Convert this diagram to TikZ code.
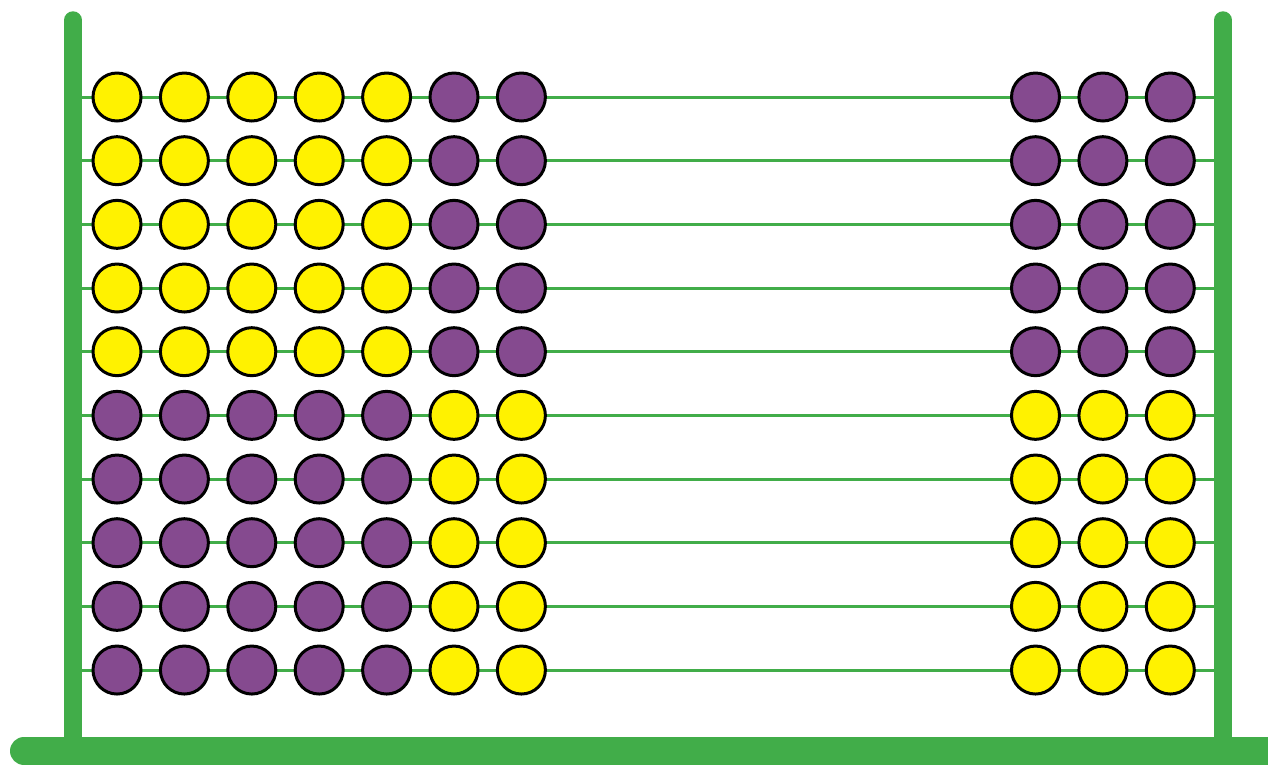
\documentclass[tikz,border=0pt]{standalone}
\usetikzlibrary{calc}
\definecolor{frameGreen}{HTML}{41AD49}
\definecolor{beadYellow}{HTML}{FFF200}
\definecolor{beadPurple}{HTML}{854A8F}
\begin{document}
\begin{tikzpicture}[x=0.02cm,y=-0.02cm,
    post/.style={draw=frameGreen,line width=0.35cm,line cap=round},
    wire/.style={draw=frameGreen,line width=0.06cm},
    bead/.style={circle,draw=black,line width=0.06cm,minimum size=0.96cm,inner sep=0pt},
    yel/.style={bead,fill=beadYellow},
    pur/.style={bead,fill=beadPurple}]
  \useasboundingbox (0,0) rectangle (1268,765);
  % frame
  \coordinate (postLtop) at (73,20);
  \coordinate (postLbot) at (73,745);
  \coordinate (postRtop) at (1223,20);
  \coordinate (postRbot) at (1223,745);
  \coordinate (baseL) at (24,751);
  \coordinate (baseR) at (1290,751);
  \draw[post] (postLtop) -- (postLbot);
  \draw[post] (postRtop) -- (postRbot);
  \draw[post,line width=0.56cm] (baseL) -- (baseR);
  % wires and beads
  \foreach \r/\a/\b in {1/yel/pur,2/yel/pur,3/yel/pur,4/yel/pur,5/yel/pur,
                        6/pur/yel,7/pur/yel,8/pur/yel,9/pur/yel,10/pur/yel} {
    \pgfmathsetmacro\y{97+(\r-1)*63.67}
    \coordinate (wL\r) at (82,\y);
    \coordinate (wR\r) at (1215,\y);
    \draw[wire] (wL\r) -- (wR\r);
    \foreach \c in {1,...,5}
      \node[\a] (b\r-\c) at ({117+(\c-1)*67.4},\y) {};
    \foreach \c in {6,7}
      \node[\b] (b\r-\c) at ({117+(\c-1)*67.4},\y) {};
    \foreach \c in {1,2,3}
      \node[\b] (bR\r-\c) at ({1035.5+(\c-1)*67.4},\y) {};
  }
\end{tikzpicture}
\end{document}
